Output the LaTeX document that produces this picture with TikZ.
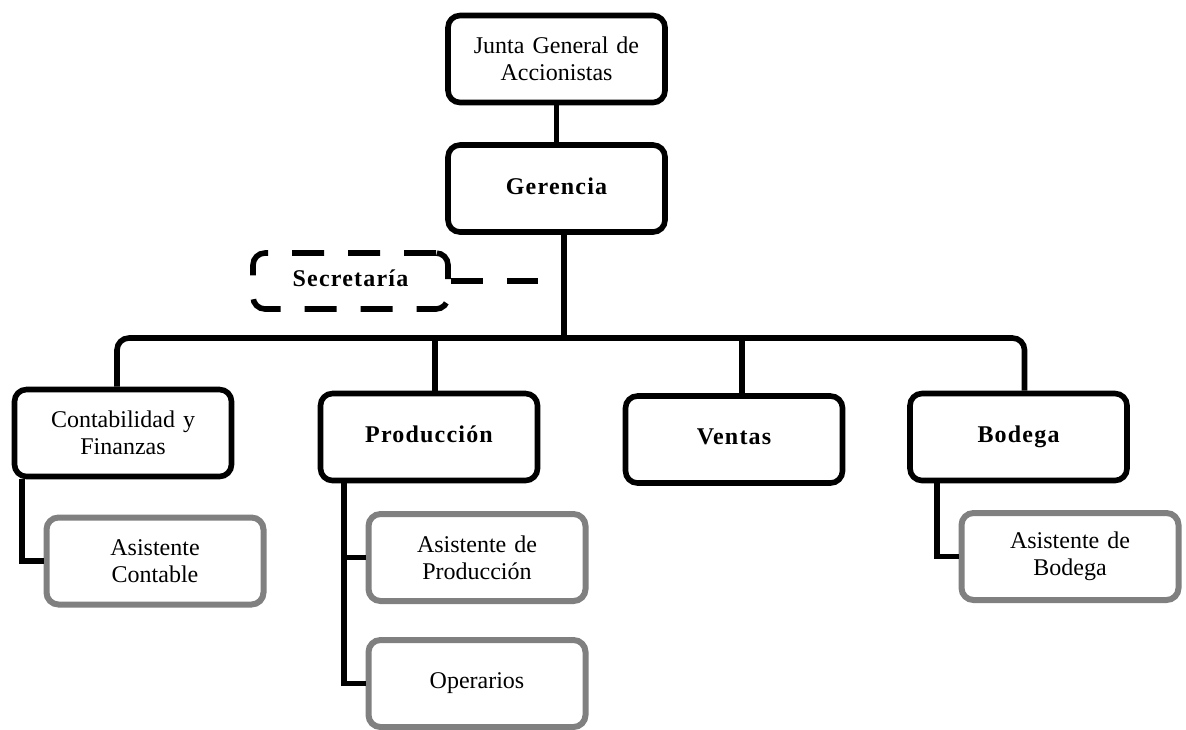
\documentclass[tikz,border=0pt]{standalone}
\usepackage{fontspec}
\setmainfont{Liberation Serif}[BoldFeatures={LetterSpace=5}]
\usepackage{tikz}
\tikzstyle{link} = [line width=2.8pt]
\tikzstyle{unit} = [
    rectangle, rounded corners=6pt, minimum width=108.5pt, minimum height=43.5pt,
    text centered, text width=100pt, draw=black, line width=2.8pt,
    font=\fontsize{12}{13.5}\selectfont]
\tikzstyle{chief} = [unit, text depth=2.5pt,
    font=\fontsize{12}{13.5}\selectfont\bfseries]
\tikzstyle{helper} = [unit, draw=black!50, line width=3pt]
\tikzstyle{staff} = [chief, dash pattern=on 16pt off 12pt, text width=80pt,
    minimum width=97.5pt, minimum height=28pt]

\begin{document}
\begin{tikzpicture}[x=0.5pt,y=-0.5pt]
\useasboundingbox (0,0) rectangle (1186,729);

\node (junta) [unit] at (556.5,59) {Junta General de\\Accionistas};
\node (gerencia) [chief] at (556.5,188.5) {Gerencia};
\node (secretaria) [staff] at (350.5,281) {Secretaría};

\node (conta) [unit] at (123,433) {Contabilidad y\\Finanzas};
\node (prod) [chief] at (429,437) {Producción};
\node (ventas) [chief] at (734,439.5) {Ventas};
\node (bodega) [chief] at (1018.5,437) {Bodega};

\node (asis-conta) [helper] at (155,561) {Asistente\\Contable};
\node (asis-prod) [helper] at (477,557.5) {Asistente de\\Producción};
\node (operarios) [helper] at (477,683.5) {Operarios};
\node (asis-bodega) [helper] at (1070,556.5) {Asistente de\\Bodega};

\coordinate (bus) at (564,338);
\coordinate (sec-end) at (538,281);

\draw [link] (junta) -- (gerencia);
\draw [link] (gerencia.south -| bus) -- (bus);
\draw [link, rounded corners=6pt] ([xshift=-3pt]conta.north) |- (bus)
    -| ([xshift=3pt]bodega.north);
\draw [link] ([xshift=3pt]prod.north) -- ([xshift=3pt]prod.north |- bus);
\draw [link] ([xshift=4pt]ventas.north) -- ([xshift=4pt]ventas.north |- bus);
\draw [link, dash pattern=on 16pt off 12pt] (secretaria.east) -- (sec-end);

\draw [link] ([xshift=5pt]conta.south west) |- (asis-conta.west);
\draw [link] ([xshift=13pt]prod.south west) |- (asis-prod.west);
\draw [link] ([xshift=13pt]prod.south west) |- (operarios.west);
\draw [link] ([xshift=15pt]bodega.south west) |- (asis-bodega.west);
\end{tikzpicture}
\end{document}
